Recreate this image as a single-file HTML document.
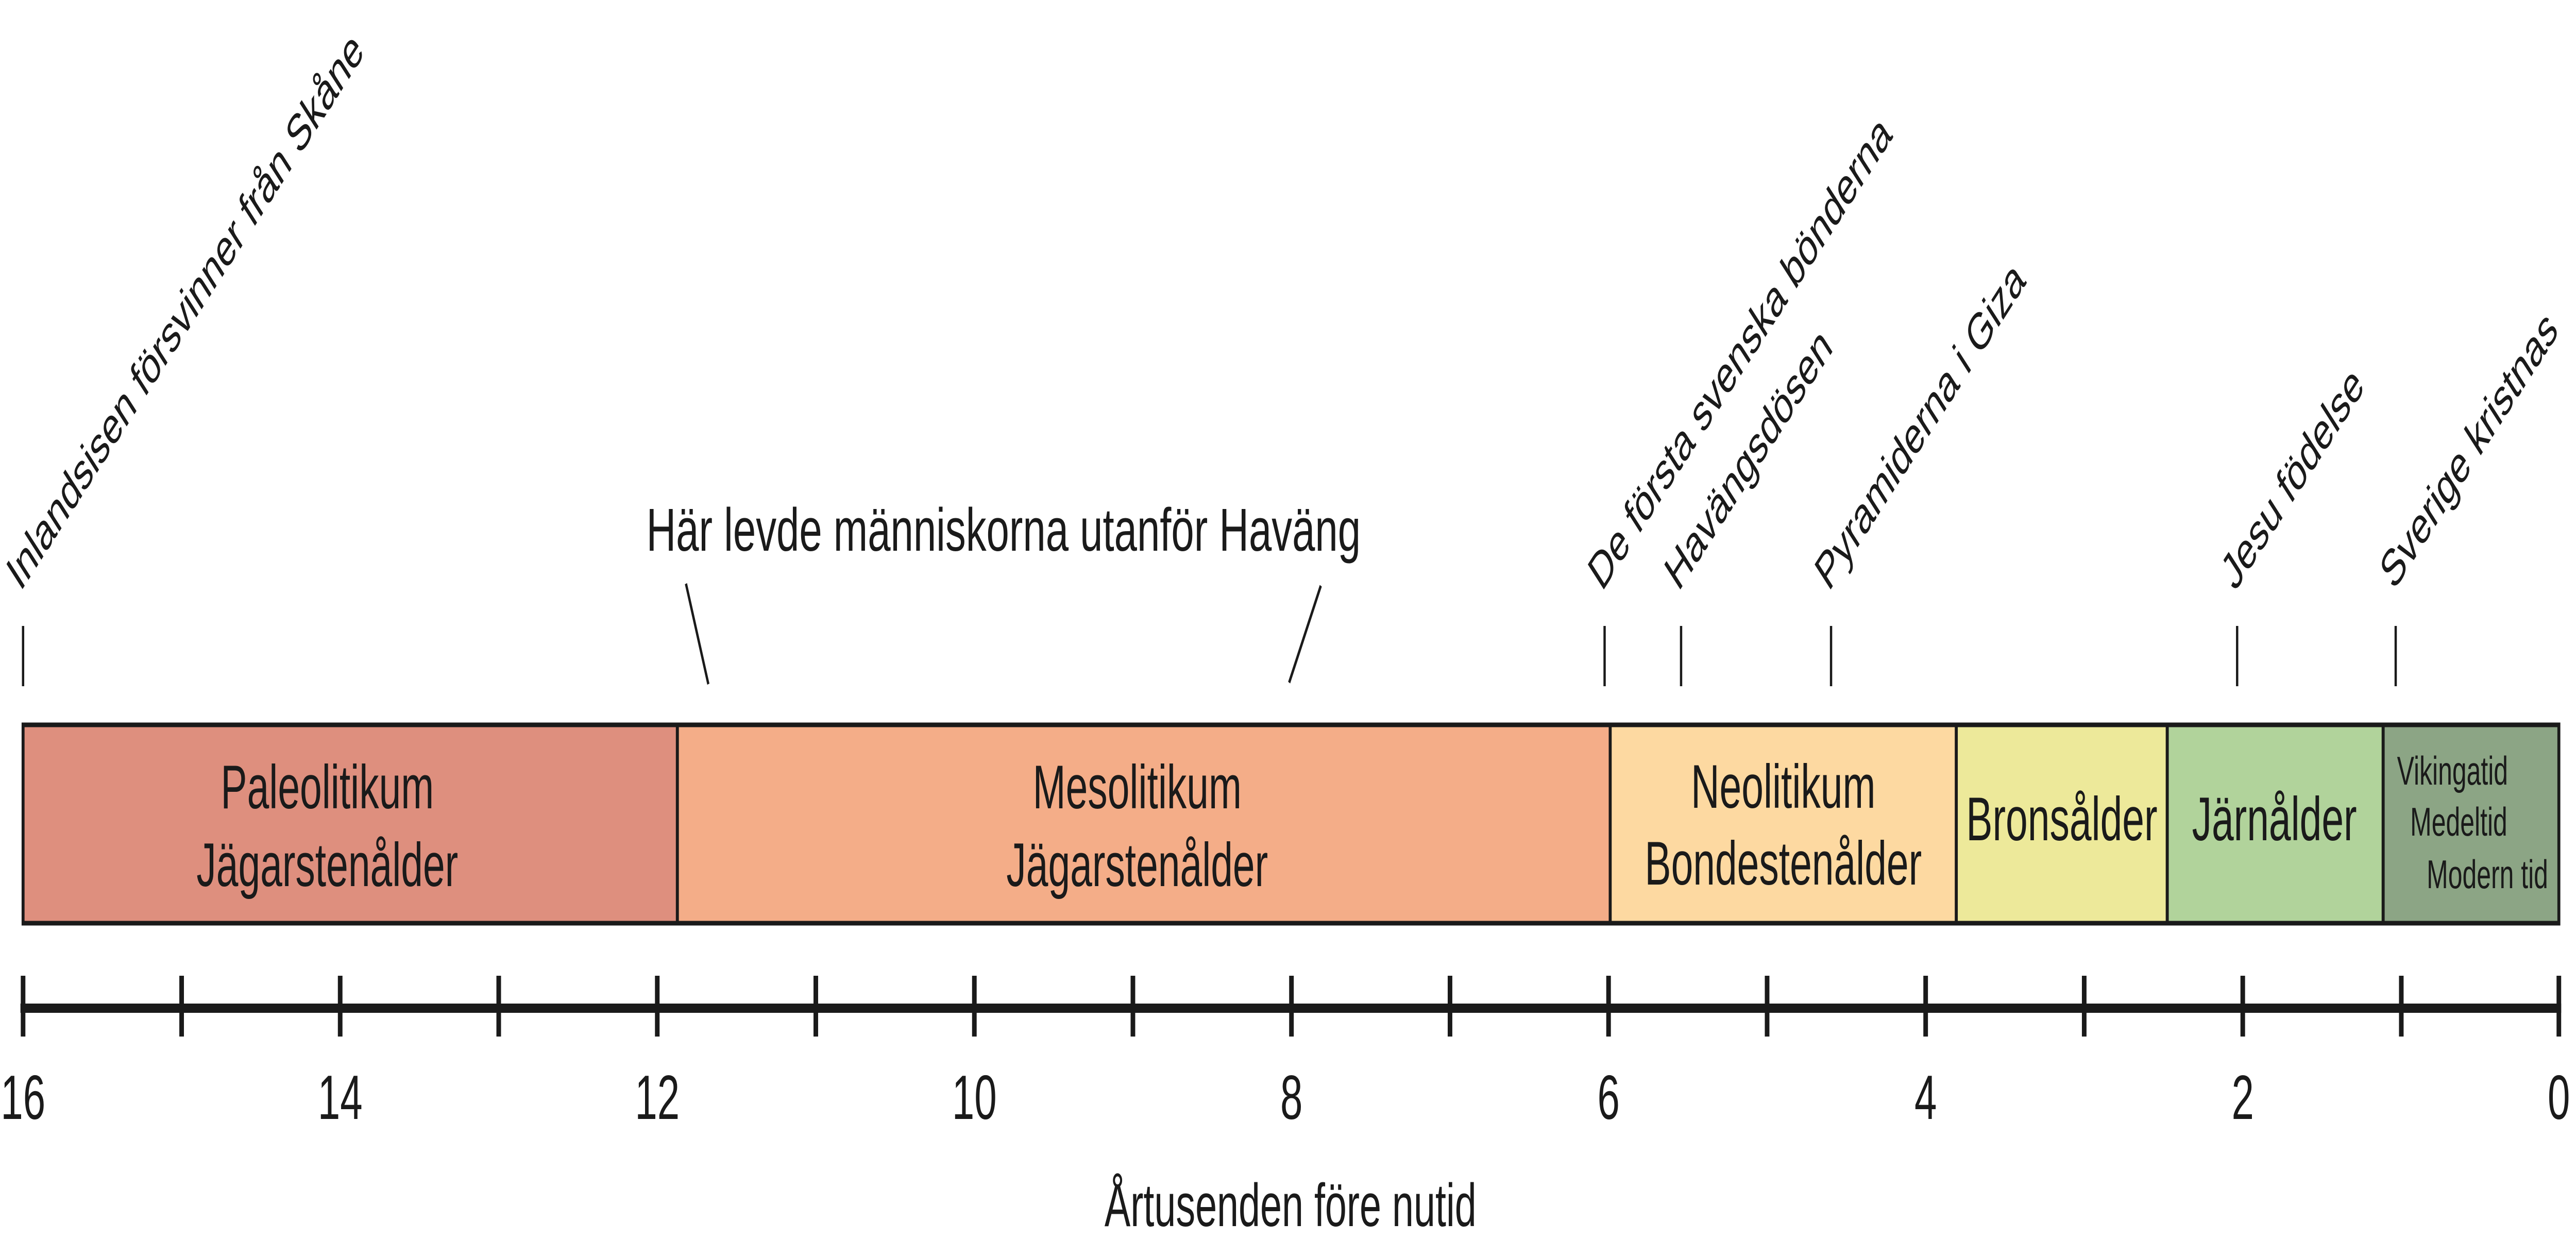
<!DOCTYPE html>
<html><head><meta charset="utf-8"><style>
html,body{margin:0;padding:0;background:#fff;width:100%;height:100%;overflow:hidden;}
svg{display:block;width:100vw;height:100vh;}
text{font-family:"Liberation Sans",Arial,sans-serif;fill:#1a1a1a;}
</style></head><body>
<svg viewBox="0 0 7815 2438" preserveAspectRatio="none" xmlns="http://www.w3.org/2000/svg">
<g stroke="#1a1a1a" stroke-width="9">
<rect x="70" y="1407" width="1985" height="385" fill="#de8f7e"/>
<rect x="2055" y="1407" width="2830" height="385" fill="#f4ad88"/>
<rect x="4885" y="1407" width="1050" height="385" fill="#fdd9a1"/>
<rect x="5935" y="1407" width="640" height="385" fill="#ede99a"/>
<rect x="6575" y="1407" width="655" height="385" fill="#b1d39b"/>
<rect x="7230" y="1407" width="533" height="385" fill="#8ca585"/>
</g>
<g font-size="120" text-anchor="middle">
<text x="993" y="1569">Paleolitikum</text>
<text x="993" y="1720">Jägarstenålder</text>
<text x="3450" y="1569">Mesolitikum</text>
<text x="3450" y="1720">Jägarstenålder</text>
<text x="5410" y="1568">Neolitikum</text>
<text x="5410" y="1717">Bondestenålder</text>
<text x="6255" y="1631">Bronsålder</text>
<text x="6900" y="1631">Järnålder</text>
</g>
<g font-size="78">
<text x="7272" y="1523">Vikingatid</text>
<text x="7312" y="1622">Medeltid</text>
<text x="7362" y="1724">Modern tid</text>
</g>
<g stroke="#1a1a1a" stroke-width="7">
<line x1="70" y1="1215" x2="70" y2="1332"/>
<line x1="4868" y1="1215" x2="4868" y2="1332"/>
<line x1="5100" y1="1215" x2="5100" y2="1332"/>
<line x1="5555" y1="1215" x2="5555" y2="1332"/>
<line x1="6787" y1="1215" x2="6787" y2="1332"/>
<line x1="7268" y1="1215" x2="7268" y2="1332"/>
<line x1="2081" y1="1133" x2="2149" y2="1328"/>
<line x1="4007" y1="1137" x2="3911" y2="1325"/>
</g>
<text x="1961" y="1069" font-size="118" textLength="2167" lengthAdjust="spacingAndGlyphs">Här levde människorna utanför Haväng</text>
<g font-size="100">
<text transform="translate(62,1150) rotate(-45)" textLength="1480" lengthAdjust="spacingAndGlyphs">Inlandsisen försvinner från Skåne</text>
<text transform="translate(4860,1150) rotate(-45)">De första svenska bönderna</text>
<text transform="translate(5092,1150) rotate(-45)">Havängsdösen</text>
<text transform="translate(5548,1150) rotate(-45)">Pyramiderna i Giza</text>
<text transform="translate(6780,1150) rotate(-45)">Jesu födelse</text>
<text transform="translate(7262,1148) rotate(-45)">Sverige kristnas</text>
</g>
<line x1="62" y1="1957" x2="7770" y2="1957" stroke="#1a1a1a" stroke-width="18"/>
<g stroke="#1a1a1a" stroke-width="14">
<line x1="70" y1="1894" x2="70" y2="2012"/>
<line x1="551" y1="1894" x2="551" y2="2012"/>
<line x1="1032" y1="1894" x2="1032" y2="2012"/>
<line x1="1513" y1="1894" x2="1513" y2="2012"/>
<line x1="1994" y1="1894" x2="1994" y2="2012"/>
<line x1="2475" y1="1894" x2="2475" y2="2012"/>
<line x1="2956" y1="1894" x2="2956" y2="2012"/>
<line x1="3437" y1="1894" x2="3437" y2="2012"/>
<line x1="3918" y1="1894" x2="3918" y2="2012"/>
<line x1="4399" y1="1894" x2="4399" y2="2012"/>
<line x1="4880" y1="1894" x2="4880" y2="2012"/>
<line x1="5361" y1="1894" x2="5361" y2="2012"/>
<line x1="5842" y1="1894" x2="5842" y2="2012"/>
<line x1="6323" y1="1894" x2="6323" y2="2012"/>
<line x1="6804" y1="1894" x2="6804" y2="2012"/>
<line x1="7285" y1="1894" x2="7285" y2="2012"/>
<line x1="7763" y1="1894" x2="7763" y2="2012"/>
</g>
<g font-size="122" text-anchor="middle">
<text x="70" y="2172">16</text>
<text x="1032" y="2172">14</text>
<text x="1994" y="2172">12</text>
<text x="2956" y="2172">10</text>
<text x="3918" y="2172">8</text>
<text x="4880" y="2172">6</text>
<text x="5842" y="2172">4</text>
<text x="6804" y="2172">2</text>
<text x="7763" y="2172">0</text>
<text x="3915" y="2380" font-size="118">Årtusenden före nutid</text>
</g>
</svg>
</body></html>
